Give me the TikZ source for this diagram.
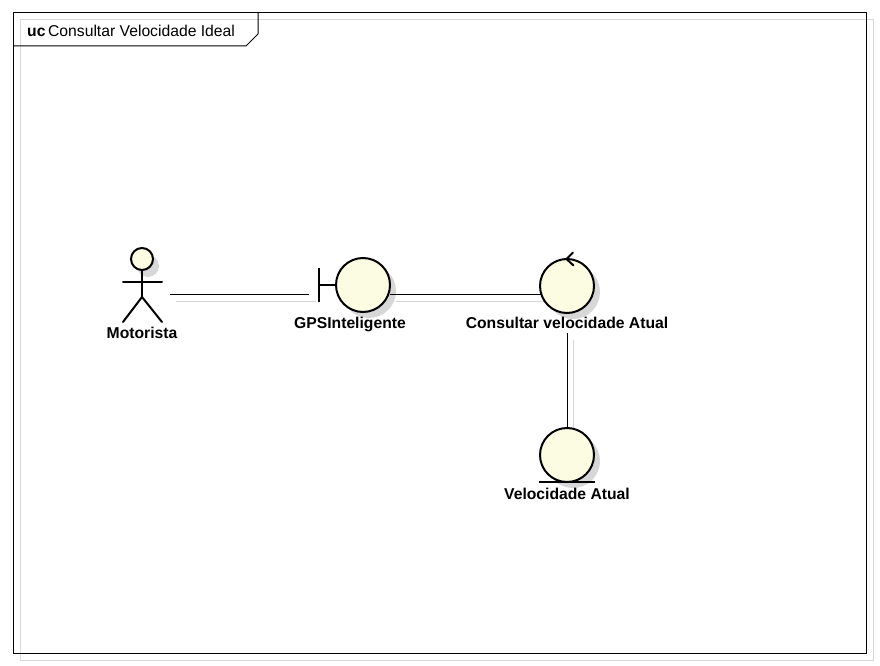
\documentclass[tikz,border=0pt]{standalone}
\usepackage{fontspec}
\setmainfont{Liberation Sans}
\definecolor{cream}{RGB}{252,252,226}
\definecolor{shad}{RGB}{215,215,215}
\begin{document}
\begin{tikzpicture}[x=1pt,y=-1pt,
  sym/.style={circle, draw=black, line width=2pt, fill=cream, minimum size=54pt, inner sep=0pt},
  symshadow/.style={circle, fill=shad, minimum size=54pt, inner sep=0pt},
  lbl/.style={font=\fontsize{15.7}{18}\selectfont\bfseries, inner sep=0pt},
  conn/.style={line width=1pt, black},
  connshadow/.style={line width=1pt, shad},
  stick/.style={line width=2pt, black, line cap=round}]
\useasboundingbox (0,0) rectangle (880,666);
% frame
\draw[shad, line width=1pt] (20,20) rectangle (873,660);
\draw[line width=1pt] (13,13) rectangle (866,653);
\draw[line width=1pt] (13,46) -- (246,46) -- (258,34) -- (258,13);
\node[anchor=base west, inner sep=0pt, font=\fontsize{15.7}{18}\selectfont] (title) at (27,37) {\textbf{uc}\,Consultar Velocidade Ideal};
% shadows
\node[symshadow] at (369,291) {};
\node[symshadow] at (573,292) {};
\node[symshadow] at (573,461) {};
\fill[shad] (148,266) circle (11);
\draw[connshadow] (176,301) -- (316,301);
\draw[connshadow] (396,301) -- (547,301);
\draw[connshadow] (573,340) -- (573,435);
% actor
\node[circle, draw=black, line width=2pt, fill=cream, minimum size=22pt, inner sep=0pt] (head) at (142,259) {};
\draw[stick] (head.south) -- (142,297) coordinate (hip);
\draw[stick] (123,282) -- (162,282);
\draw[stick] (hip) -- (123,322);
\draw[stick] (hip) -- (162,322);
\node[lbl] (motorista) at (142,333) {Motorista};
\coordinate (actorR) at (170,294);
% boundary
\node[sym] (gps) at (363,285) {};
\draw[line width=2pt] (319,268) -- (319,302);
\draw[line width=2pt] (319,285) -- (gps.west);
\node[lbl] (gpslbl) at (350,324) {GPSInteligente};
\coordinate (gpsL) at (309,294);
% control
\node[sym] (ctrl) at (567,286) {};
\draw[line width=2pt, line cap=round] (573,252.5) -- (566.5,259) -- (573.5,265.5);
\node[lbl] (ctrllbl) at (567,323) {Consultar velocidade Atual};
% entity
\node[sym] (ent) at (567,455) {};
\draw[line width=2pt] (539,482) -- (595,482);
\node[lbl] (entlbl) at (567,494) {Velocidade Atual};
% connectors
\draw[conn] (actorR) -- (gpsL);
\draw[conn] (389.5,294) -- (540.5,294);
\draw[conn] (ctrllbl.south) ++(0,4) -- (ent.north);
\end{tikzpicture}
\end{document}
